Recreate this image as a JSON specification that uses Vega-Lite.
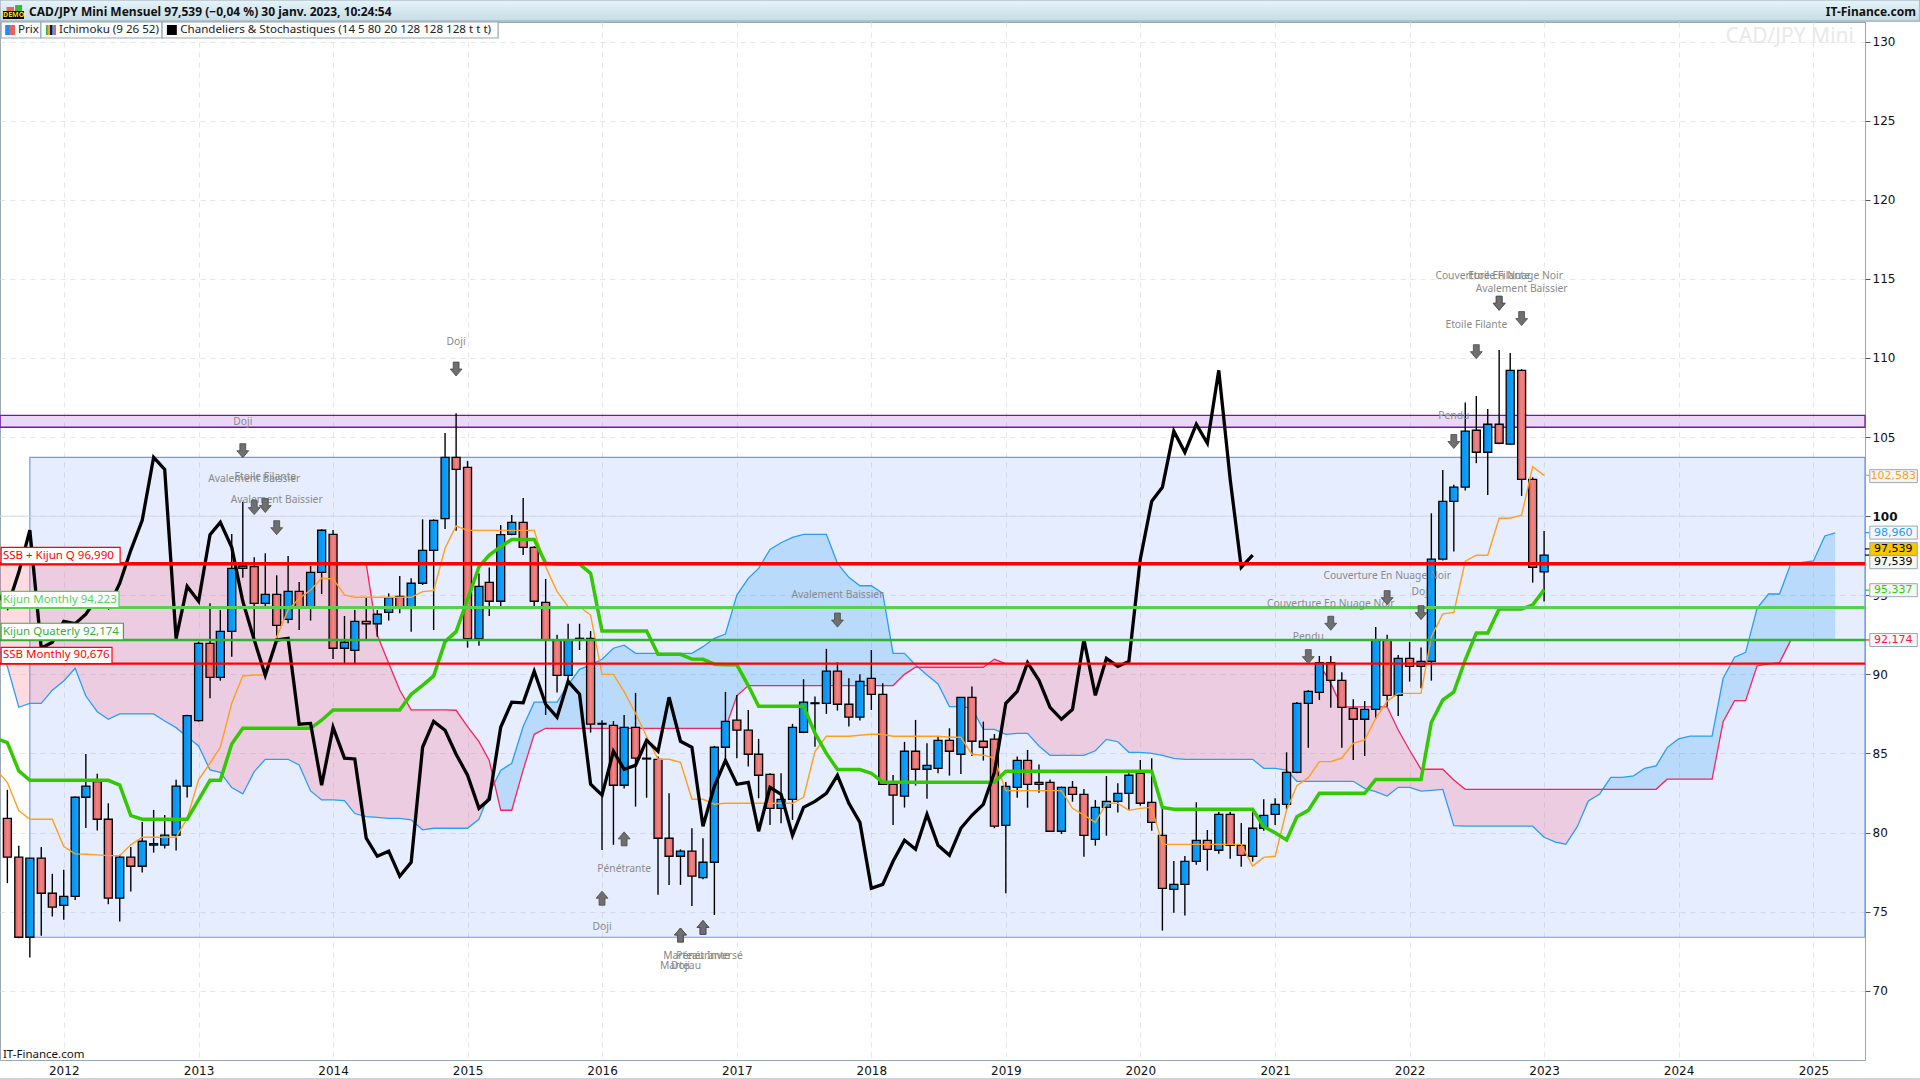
{
  "$schema": "https://vega.github.io/schema/vega-lite/v6.json",
  "width": 1865,
  "height": 1038,
  "autosize": {"type": "none"},
  "padding": {"left": 0, "right": 55, "top": 22, "bottom": 20},
  "background": "white",
  "config": {"view": {"stroke": "#9AA8B4"}, "font": "Noto Sans", "scale": {"continuousPadding": 0}},
  "resolve": {"scale": {"color": "independent", "fill": "independent", "stroke": "independent", "strokeWidth": "independent", "shape": "independent"}},
  "datasets": {
    "prices": [
      {"date":"2011-07-01","tenkan":84,"kijun":85.95,"chikou":95.25},
      {"date":"2011-08-01","open":80.9,"high":82.7,"low":76.8,"close":78.44,"tenkan":83.16,"kijun":85.69,"chikou":94.24},
      {"date":"2011-09-01","open":78.44,"high":79.16,"low":73.32,"close":73.38,"tenkan":81.39,"kijun":83.9,"chikou":96.45},
      {"date":"2011-10-01","open":73.38,"high":78.38,"low":72.1,"close":78.38,"tenkan":80.84,"kijun":83.3,"chikou":99.11},
      {"date":"2011-11-01","open":78.38,"high":79.09,"low":73.47,"close":76.16,"tenkan":80.84,"kijun":83.3,"chikou":91.65},
      {"date":"2011-12-01","open":76.16,"high":77.39,"low":74.69,"close":75.28,"tenkan":80.84,"kijun":83.3,"chikou":92.03},
      {"date":"2012-01-01","open":75.4,"high":77.64,"low":74.48,"close":75.97,"tenkan":79.11,"kijun":83.3,"chikou":93.35},
      {"date":"2012-02-01","open":75.97,"high":82.27,"low":75.74,"close":82.23,"tenkan":78.65,"kijun":83.3,"chikou":93.2},
      {"date":"2012-03-01","open":82.23,"high":84.97,"low":80.29,"close":82.93,"tenkan":78.63,"kijun":83.3,"chikou":93.8},
      {"date":"2012-04-01","open":83.22,"high":83.71,"low":80.13,"close":80.84,"tenkan":78.59,"kijun":83.3,"chikou":94.85},
      {"date":"2012-05-01","open":80.84,"high":81.85,"low":75.47,"close":75.85,"tenkan":78.54,"kijun":83.3,"chikou":94.24},
      {"date":"2012-06-01","open":75.85,"high":78.59,"low":74.37,"close":78.44,"tenkan":78.54,"kijun":83,"chikou":95.76},
      {"date":"2012-07-01","open":78.44,"high":79.09,"low":76.27,"close":77.87,"tenkan":79.22,"kijun":81.07,"chikou":97.84},
      {"date":"2012-08-01","open":77.87,"high":80.67,"low":77.47,"close":79.45,"tenkan":79.7,"kijun":80.84,"chikou":99.74},
      {"date":"2012-09-01","open":79.2,"high":81.43,"low":78.73,"close":79.3,"tenkan":79.7,"kijun":80.84,"chikou":103.72},
      {"date":"2012-10-01","open":79.2,"high":81.11,"low":78.99,"close":79.83,"tenkan":79.7,"kijun":80.84,"chikou":102.96},
      {"date":"2012-11-01","open":79.83,"high":83.33,"low":78.86,"close":82.93,"tenkan":79.7,"kijun":80.84,"chikou":92.26},
      {"date":"2012-12-01","open":82.93,"high":87.45,"low":82.21,"close":87.39,"tenkan":80.9,"kijun":80.84,"chikou":95.56},
      {"date":"2013-01-01","open":87.08,"high":92.07,"low":87.01,"close":91.96,"tenkan":83.33,"kijun":82.06,"chikou":94.62},
      {"date":"2013-02-01","open":91.96,"high":94.49,"low":88.49,"close":89.81,"tenkan":84.38,"kijun":83.3,"chikou":98.83},
      {"date":"2013-03-01","open":89.81,"high":94.07,"low":89.6,"close":92.72,"tenkan":85.39,"kijun":83.3,"chikou":99.61},
      {"date":"2013-04-01","open":92.72,"high":98.87,"low":91.12,"close":96.7,"tenkan":88.17,"kijun":85.6,"chikou":98.03},
      {"date":"2013-05-01","open":96.7,"high":100.91,"low":96.11,"close":96.85,"tenkan":89.9,"kijun":86.59,"chikou":94.62},
      {"date":"2013-06-01","open":96.81,"high":97.4,"low":92.28,"close":94.49,"tenkan":89.96,"kijun":86.59,"chikou":92.18},
      {"date":"2013-07-01","open":94.49,"high":97.65,"low":94.24,"close":95.06,"tenkan":89.96,"kijun":86.59,"chikou":89.94},
      {"date":"2013-08-01","open":95.06,"high":96.26,"low":92.28,"close":93.1,"tenkan":92.38,"kijun":86.59,"chikou":92.17},
      {"date":"2013-09-01","open":93.48,"high":97.48,"low":93.23,"close":95.25,"tenkan":94.07,"kijun":86.59,"chikou":92.28},
      {"date":"2013-10-01","open":95.25,"high":95.84,"low":92.81,"close":94.24,"tenkan":94.8,"kijun":86.59,"chikou":86.85},
      {"date":"2013-11-01","open":94.24,"high":96.85,"low":93.4,"close":96.45,"tenkan":95.33,"kijun":86.59,"chikou":86.9},
      {"date":"2013-12-01","open":96.45,"high":99.17,"low":95.08,"close":99.11,"tenkan":96.07,"kijun":87.1,"chikou":82.99},
      {"date":"2014-01-01","open":98.85,"high":99.13,"low":90.97,"close":91.65,"tenkan":96.03,"kijun":87.75,"chikou":86.65},
      {"date":"2014-02-01","open":91.65,"high":93.69,"low":90.7,"close":92.03,"tenkan":95.02,"kijun":87.75,"chikou":84.7},
      {"date":"2014-03-01","open":91.52,"high":94.07,"low":90.7,"close":93.35,"tenkan":94.87,"kijun":87.75,"chikou":84.65},
      {"date":"2014-04-01","open":93.35,"high":94.87,"low":92.2,"close":93.2,"tenkan":94.87,"kijun":87.75,"chikou":79.64},
      {"date":"2014-05-01","open":93.2,"high":94.07,"low":92.38,"close":93.8,"tenkan":94.87,"kijun":87.75,"chikou":78.5},
      {"date":"2014-06-01","open":93.92,"high":95.12,"low":93.4,"close":94.85,"tenkan":94.87,"kijun":87.75,"chikou":78.82},
      {"date":"2014-07-01","open":94.93,"high":96.22,"low":93.86,"close":94.24,"tenkan":94.87,"kijun":87.75,"chikou":77.24},
      {"date":"2014-08-01","open":94.24,"high":96.07,"low":92.7,"close":95.76,"tenkan":94.87,"kijun":88.74,"chikou":78.12},
      {"date":"2014-09-01","open":95.76,"high":99.8,"low":95.65,"close":97.84,"tenkan":95.23,"kijun":89.3,"chikou":85.39},
      {"date":"2014-10-01","open":97.84,"high":99.8,"low":92.8,"close":99.74,"tenkan":95.29,"kijun":89.9,"chikou":87.03},
      {"date":"2014-11-01","open":99.84,"high":105.26,"low":99.19,"close":103.72,"tenkan":97.97,"kijun":92.07,"chikou":86.47},
      {"date":"2014-12-01","open":103.72,"high":106.5,"low":99.08,"close":102.96,"tenkan":99.38,"kijun":92.7,"chikou":84.95},
      {"date":"2015-01-01","open":103.09,"high":103.49,"low":91.69,"close":92.26,"tenkan":99.1,"kijun":94.74,"chikou":83.62},
      {"date":"2015-02-01","open":92.26,"high":96.38,"low":91.81,"close":95.56,"tenkan":99.1,"kijun":96.8,"chikou":81.53},
      {"date":"2015-03-01","open":95.82,"high":96.76,"low":93.69,"close":94.62,"tenkan":99.1,"kijun":97.54,"chikou":82.1},
      {"date":"2015-04-01","open":94.62,"high":99.44,"low":94.24,"close":98.83,"tenkan":99.1,"kijun":98.07,"chikou":86.65},
      {"date":"2015-05-01","open":98.85,"high":100.07,"low":98.8,"close":99.61,"tenkan":99.1,"kijun":98.53,"chikou":88.24},
      {"date":"2015-06-01","open":99.61,"high":101.15,"low":97.54,"close":98.03,"tenkan":99.1,"kijun":98.53,"chikou":88.2},
      {"date":"2015-07-01","open":98.03,"high":98.1,"low":94.32,"close":94.62,"tenkan":99.1,"kijun":98.53,"chikou":90.2},
      {"date":"2015-08-01","open":94.55,"high":96.03,"low":87.43,"close":92.18,"tenkan":96.81,"kijun":97.02,"chikou":88.11},
      {"date":"2015-09-01","open":92.17,"high":92.5,"low":88.85,"close":89.94,"tenkan":95.23,"kijun":96.96,"chikou":87.29},
      {"date":"2015-10-01","open":89.94,"high":93.2,"low":89.5,"close":92.17,"tenkan":94.28,"kijun":96.96,"chikou":89.56},
      {"date":"2015-11-01","open":92.2,"high":93.2,"low":91.54,"close":92.28,"tenkan":94.28,"kijun":96.96,"chikou":88.74},
      {"date":"2015-12-01","open":92.28,"high":92.74,"low":86.32,"close":86.85,"tenkan":93.75,"kijun":96.39,"chikou":83.05},
      {"date":"2016-01-01","open":86.85,"high":87.1,"low":78.9,"close":86.9,"tenkan":90,"kijun":92.74,"chikou":82.36},
      {"date":"2016-02-01","open":86.78,"high":87.05,"low":79.22,"close":82.99,"tenkan":90,"kijun":92.74,"chikou":85.14},
      {"date":"2016-03-01","open":82.99,"high":87.43,"low":82.78,"close":86.65,"tenkan":88.91,"kijun":92.74,"chikou":84},
      {"date":"2016-04-01","open":86.65,"high":88.83,"low":81.64,"close":84.7,"tenkan":87.54,"kijun":92.74,"chikou":84.25},
      {"date":"2016-05-01","open":84.7,"high":85.85,"low":82.2,"close":84.65,"tenkan":86.07,"kijun":92.74,"chikou":85.83},
      {"date":"2016-06-01","open":84.63,"high":84.8,"low":76.06,"close":79.64,"tenkan":84.63,"kijun":91.27,"chikou":85.14},
      {"date":"2016-07-01","open":79.64,"high":82.48,"low":76.69,"close":78.5,"tenkan":84.63,"kijun":91.27,"chikou":88.55},
      {"date":"2016-08-01","open":78.5,"high":78.94,"low":76.69,"close":78.82,"tenkan":84.44,"kijun":91.27,"chikou":85.77},
      {"date":"2016-09-01","open":78.82,"high":80.27,"low":75.36,"close":77.24,"tenkan":82.1,"kijun":90.97,"chikou":85.39},
      {"date":"2016-10-01","open":77.15,"high":79.64,"low":77.05,"close":78.12,"tenkan":82.1,"kijun":90.95,"chikou":80.4},
      {"date":"2016-11-01","open":78.12,"high":85.48,"low":74.79,"close":85.39,"tenkan":81.79,"kijun":90.64,"chikou":82.92},
      {"date":"2016-12-01","open":85.39,"high":88.89,"low":84.59,"close":87.03,"tenkan":81.85,"kijun":90.6,"chikou":84.56},
      {"date":"2017-01-01","open":87.1,"high":88.7,"low":84.7,"close":86.47,"tenkan":81.85,"kijun":90.6,"chikou":83.05},
      {"date":"2017-02-01","open":86.47,"high":87.75,"low":84.17,"close":84.95,"tenkan":81.85,"kijun":89.29,"chikou":83.17},
      {"date":"2017-03-01","open":84.95,"high":85.92,"low":82.17,"close":83.62,"tenkan":81.85,"kijun":87.98,"chikou":80.08},
      {"date":"2017-04-01","open":83.68,"high":83.75,"low":80.48,"close":81.53,"tenkan":81.85,"kijun":87.98,"chikou":82.86},
      {"date":"2017-05-01","open":81.53,"high":83.75,"low":80.59,"close":82.1,"tenkan":81.85,"kijun":87.98,"chikou":82.41},
      {"date":"2017-06-01","open":82.1,"high":86.87,"low":80.8,"close":86.65,"tenkan":81.85,"kijun":87.98,"chikou":79.82},
      {"date":"2017-07-01","open":86.34,"high":89.69,"low":86.28,"close":88.24,"tenkan":82.23,"kijun":87.98,"chikou":81.59},
      {"date":"2017-08-01","open":88.15,"high":88.6,"low":85.43,"close":88.2,"tenkan":85.12,"kijun":86.28,"chikou":81.97},
      {"date":"2017-09-01","open":88.17,"high":91.61,"low":87.5,"close":90.2,"tenkan":86.09,"kijun":85,"chikou":82.48},
      {"date":"2017-10-01","open":90.2,"high":90.76,"low":87.71,"close":88.11,"tenkan":86.09,"kijun":83.98,"chikou":83.62},
      {"date":"2017-11-01","open":88.11,"high":89.75,"low":86.7,"close":87.29,"tenkan":86.09,"kijun":83.98,"chikou":81.85},
      {"date":"2017-12-01","open":87.29,"high":90,"low":87.08,"close":89.56,"tenkan":86.15,"kijun":83.98,"chikou":80.64},
      {"date":"2018-01-01","open":89.75,"high":91.54,"low":87.75,"close":88.74,"tenkan":86.21,"kijun":83.75,"chikou":76.47},
      {"date":"2018-02-01","open":88.74,"high":89.44,"low":83,"close":83.05,"tenkan":86.21,"kijun":83.18,"chikou":76.72},
      {"date":"2018-03-01","open":83.05,"high":83.64,"low":80.48,"close":82.36,"tenkan":86.09,"kijun":83.18,"chikou":78.18},
      {"date":"2018-04-01","open":82.3,"high":85.73,"low":81.58,"close":85.14,"tenkan":86.09,"kijun":83.18,"chikou":79.51},
      {"date":"2018-05-01","open":85.14,"high":87.12,"low":82.97,"close":84,"tenkan":86.09,"kijun":83.18,"chikou":78.94},
      {"date":"2018-06-01","open":84,"high":85.64,"low":82.13,"close":84.25,"tenkan":86.09,"kijun":83.18,"chikou":81.15},
      {"date":"2018-07-01","open":84.06,"high":86.06,"low":83.75,"close":85.83,"tenkan":86.09,"kijun":83.18,"chikou":79.19},
      {"date":"2018-08-01","open":85.83,"high":86.59,"low":83.6,"close":85.14,"tenkan":86.02,"kijun":83.18,"chikou":78.56},
      {"date":"2018-09-01","open":84.95,"high":88.55,"low":83.7,"close":88.55,"tenkan":86.02,"kijun":83.18,"chikou":80.27},
      {"date":"2018-10-01","open":88.55,"high":89.23,"low":84.84,"close":85.77,"tenkan":84.95,"kijun":83.18,"chikou":81.09},
      {"date":"2018-11-01","open":85.77,"high":87.01,"low":84.55,"close":85.39,"tenkan":84.89,"kijun":83.18,"chikou":81.78},
      {"date":"2018-12-01","open":85.9,"high":86.23,"low":80.27,"close":80.4,"tenkan":84.7,"kijun":83.18,"chikou":83.8},
      {"date":"2019-01-01","open":80.45,"high":83.2,"low":76.16,"close":82.92,"tenkan":82.65,"kijun":83.87,"chikou":88.17},
      {"date":"2019-02-01","open":82.86,"high":84.8,"low":82.2,"close":84.56,"tenkan":82.65,"kijun":83.87,"chikou":88.92},
      {"date":"2019-03-01","open":84.56,"high":85.22,"low":81.57,"close":83.05,"tenkan":82.65,"kijun":83.87,"chikou":90.74},
      {"date":"2019-04-01","open":83.05,"high":84.3,"low":82.52,"close":83.17,"tenkan":82.65,"kijun":83.87,"chikou":89.62},
      {"date":"2019-05-01","open":83.17,"high":83.36,"low":80.05,"close":80.08,"tenkan":82.65,"kijun":83.87,"chikou":87.91},
      {"date":"2019-06-01","open":80.08,"high":82.9,"low":79.91,"close":82.86,"tenkan":82.65,"kijun":83.87,"chikou":87.16},
      {"date":"2019-07-01","open":82.86,"high":83.26,"low":81.95,"close":82.41,"tenkan":81.53,"kijun":83.87,"chikou":87.79},
      {"date":"2019-08-01","open":82.41,"high":82.75,"low":78.47,"close":79.82,"tenkan":81.1,"kijun":83.87,"chikou":92.2},
      {"date":"2019-09-01","open":79.57,"high":82.06,"low":79.17,"close":81.59,"tenkan":80.64,"kijun":83.87,"chikou":88.67},
      {"date":"2019-10-01","open":81.59,"high":83.57,"low":79.8,"close":81.97,"tenkan":81.85,"kijun":83.87,"chikou":91.01},
      {"date":"2019-11-01","open":81.97,"high":83.11,"low":81.26,"close":82.48,"tenkan":81.85,"kijun":83.87,"chikou":90.5},
      {"date":"2019-12-01","open":82.48,"high":83.74,"low":81.42,"close":83.62,"tenkan":81.4,"kijun":83.87,"chikou":90.82},
      {"date":"2020-01-01","open":83.74,"high":84.58,"low":81.7,"close":81.85,"tenkan":81.53,"kijun":83.87,"chikou":97.28},
      {"date":"2020-02-01","open":81.91,"high":84.69,"low":80.12,"close":80.64,"tenkan":81.59,"kijun":83.87,"chikou":100.94},
      {"date":"2020-03-01","open":79.82,"high":81.53,"low":73.8,"close":76.47,"tenkan":79.25,"kijun":81.59,"chikou":101.83},
      {"date":"2020-04-01","open":76.41,"high":78.2,"low":74.93,"close":76.72,"tenkan":79.25,"kijun":81.47,"chikou":105.37},
      {"date":"2020-05-01","open":76.72,"high":78.52,"low":74.75,"close":78.18,"tenkan":79.25,"kijun":81.47,"chikou":104.04},
      {"date":"2020-06-01","open":78.18,"high":81.91,"low":77.97,"close":79.51,"tenkan":79.25,"kijun":81.47,"chikou":105.81},
      {"date":"2020-07-01","open":79.51,"high":80.16,"low":77.59,"close":78.94,"tenkan":79.25,"kijun":81.47,"chikou":104.61},
      {"date":"2020-08-01","open":78.88,"high":81.32,"low":78.66,"close":81.15,"tenkan":79.25,"kijun":81.47,"chikou":109.22},
      {"date":"2020-09-01","open":81.15,"high":81.32,"low":78.35,"close":79.19,"tenkan":79.25,"kijun":81.47,"chikou":102.33},
      {"date":"2020-10-01","open":79.19,"high":80.6,"low":77.84,"close":78.56,"tenkan":79.25,"kijun":81.47,"chikou":96.77},
      {"date":"2020-11-01","open":78.5,"high":81.32,"low":78.16,"close":80.27,"tenkan":77.88,"kijun":81.47,"chikou":97.54},
      {"date":"2020-12-01","open":80.27,"high":82.1,"low":80.12,"close":81.09,"tenkan":78.43,"kijun":80.37},
      {"date":"2021-01-01","open":81.15,"high":82.16,"low":80.48,"close":81.78,"tenkan":78.5,"kijun":79.99},
      {"date":"2021-02-01","open":81.78,"high":85.07,"low":81.47,"close":83.8,"tenkan":81.42,"kijun":79.53},
      {"date":"2021-03-01","open":83.8,"high":88.25,"low":83.74,"close":88.17,"tenkan":82.96,"kijun":81},
      {"date":"2021-04-01","open":88.17,"high":89,"low":85.36,"close":88.92,"tenkan":83.47,"kijun":81.4},
      {"date":"2021-05-01","open":88.86,"high":91.16,"low":88.38,"close":90.74,"tenkan":84.48,"kijun":82.48},
      {"date":"2021-06-01","open":90.74,"high":91.16,"low":87.89,"close":89.62,"tenkan":84.48,"kijun":82.48},
      {"date":"2021-07-01","open":89.62,"high":90.13,"low":85.36,"close":87.91,"tenkan":84.71,"kijun":82.48},
      {"date":"2021-08-01","open":87.85,"high":88.42,"low":84.58,"close":87.16,"tenkan":85.64,"kijun":82.48},
      {"date":"2021-09-01","open":87.16,"high":88.31,"low":84.84,"close":87.79,"tenkan":85.85,"kijun":82.48},
      {"date":"2021-10-01","open":87.79,"high":93,"low":87.18,"close":92.2,"tenkan":87.22,"kijun":83.36},
      {"date":"2021-11-01","open":92.2,"high":92.5,"low":87.96,"close":88.67,"tenkan":88.31,"kijun":83.36},
      {"date":"2021-12-01","open":88.67,"high":91.22,"low":87.37,"close":91.01,"tenkan":88.8,"kijun":83.36},
      {"date":"2022-01-01","open":91.01,"high":92.06,"low":89.54,"close":90.5,"tenkan":88.8,"kijun":83.36},
      {"date":"2022-02-01","open":90.5,"high":91.7,"low":89.12,"close":90.82,"tenkan":88.8,"kijun":83.36},
      {"date":"2022-03-01","open":90.82,"high":100.18,"low":89.6,"close":97.28,"tenkan":92.38,"kijun":86.97},
      {"date":"2022-04-01","open":97.28,"high":102.92,"low":97.2,"close":100.94,"tenkan":93.82,"kijun":88.38},
      {"date":"2022-05-01","open":100.94,"high":101.98,"low":97.76,"close":101.83,"tenkan":93.92,"kijun":88.89},
      {"date":"2022-06-01","open":101.83,"high":107.18,"low":101.62,"close":105.37,"tenkan":97.15,"kijun":90.91},
      {"date":"2022-07-01","open":105.43,"high":107.6,"low":103.35,"close":104.04,"tenkan":97.53,"kijun":92.62},
      {"date":"2022-08-01","open":104.04,"high":106.78,"low":101.34,"close":105.81,"tenkan":97.53,"kijun":92.62},
      {"date":"2022-09-01","open":105.81,"high":110.51,"low":104.55,"close":104.61,"tenkan":99.87,"kijun":94.13},
      {"date":"2022-10-01","open":104.55,"high":110.32,"low":104.5,"close":109.22,"tenkan":99.87,"kijun":94.13},
      {"date":"2022-11-01","open":109.22,"high":109.29,"low":101.28,"close":102.33,"tenkan":100.06,"kijun":94.13},
      {"date":"2022-12-01","open":102.33,"high":102.46,"low":95.8,"close":96.77,"tenkan":103.13,"kijun":94.39},
      {"date":"2023-01-01","open":96.48,"high":99.07,"low":94.6,"close":97.54,"tenkan":102.58,"kijun":95.34}
    ],
    "kumo": [
      {"date":"2011-07-01","ssa":91.9,"ssb":96.99,"kind":"rouge"},
      {"date":"2011-08-01","ssa":90.49,"ssb":96.99,"kind":"rouge"},
      {"date":"2011-09-01","ssa":87.92,"ssb":96.99,"kind":"rouge"},
      {"date":"2011-10-01","ssa":88.17,"ssb":96.99,"kind":"rouge"},
      {"date":"2011-11-01","ssa":88.17,"ssb":96.99,"kind":"rouge"},
      {"date":"2011-12-01","ssa":89,"ssb":96.99,"kind":"rouge"},
      {"date":"2012-01-01","ssa":89.58,"ssb":96.99,"kind":"rouge"},
      {"date":"2012-02-01","ssa":90.38,"ssb":96.99,"kind":"rouge"},
      {"date":"2012-03-01","ssa":88.63,"ssb":96.99,"kind":"rouge"},
      {"date":"2012-04-01","ssa":87.64,"ssb":96.99,"kind":"rouge"},
      {"date":"2012-05-01","ssa":87.16,"ssb":96.99,"kind":"rouge"},
      {"date":"2012-06-01","ssa":87.5,"ssb":96.99,"kind":"rouge"},
      {"date":"2012-07-01","ssa":87.5,"ssb":96.99,"kind":"rouge"},
      {"date":"2012-08-01","ssa":87.5,"ssb":96.99,"kind":"rouge"},
      {"date":"2012-09-01","ssa":87.5,"ssb":96.99,"kind":"rouge"},
      {"date":"2012-10-01","ssa":87.05,"ssb":96.99,"kind":"rouge"},
      {"date":"2012-11-01","ssa":86.63,"ssb":96.99,"kind":"rouge"},
      {"date":"2012-12-01","ssa":86.06,"ssb":96.99,"kind":"rouge"},
      {"date":"2013-01-01","ssa":85.47,"ssb":96.99,"kind":"rouge"},
      {"date":"2013-02-01","ssa":83.96,"ssb":96.99,"kind":"rouge"},
      {"date":"2013-03-01","ssa":83.81,"ssb":96.99,"kind":"rouge"},
      {"date":"2013-04-01","ssa":82.84,"ssb":96.99,"kind":"rouge"},
      {"date":"2013-05-01","ssa":82.44,"ssb":96.99,"kind":"rouge"},
      {"date":"2013-06-01","ssa":83.85,"ssb":96.99,"kind":"rouge"},
      {"date":"2013-07-01","ssa":84.63,"ssb":96.99,"kind":"rouge"},
      {"date":"2013-08-01","ssa":84.63,"ssb":96.99,"kind":"rouge"},
      {"date":"2013-09-01","ssa":84.63,"ssb":96.99,"kind":"rouge"},
      {"date":"2013-10-01","ssa":84.27,"ssb":96.99,"kind":"rouge"},
      {"date":"2013-11-01","ssa":82.63,"ssb":96.99,"kind":"rouge"},
      {"date":"2013-12-01","ssa":82.06,"ssb":96.99,"kind":"rouge"},
      {"date":"2014-01-01","ssa":82.06,"ssb":96.99,"kind":"rouge"},
      {"date":"2014-02-01","ssa":82.02,"ssb":96.99,"kind":"rouge"},
      {"date":"2014-03-01","ssa":81.2,"ssb":96.99,"kind":"rouge"},
      {"date":"2014-04-01","ssa":81,"ssb":96.99,"kind":"rouge"},
      {"date":"2014-05-01","ssa":80.96,"ssb":92.49,"kind":"rouge"},
      {"date":"2014-06-01","ssa":80.9,"ssb":90.7,"kind":"rouge"},
      {"date":"2014-07-01","ssa":80.9,"ssb":89.01,"kind":"rouge"},
      {"date":"2014-08-01","ssa":80.8,"ssb":87.75,"kind":"rouge"},
      {"date":"2014-09-01","ssa":80.17,"ssb":87.75,"kind":"rouge"},
      {"date":"2014-10-01","ssa":80.27,"ssb":87.75,"kind":"rouge"},
      {"date":"2014-11-01","ssa":80.27,"ssb":87.75,"kind":"rouge"},
      {"date":"2014-12-01","ssa":80.27,"ssb":87.73,"kind":"rouge"},
      {"date":"2015-01-01","ssa":80.27,"ssb":86.7,"kind":"rouge"},
      {"date":"2015-02-01","ssa":80.84,"ssb":85.75,"kind":"rouge"},
      {"date":"2015-03-01","ssa":82.48,"ssb":84.55,"kind":"rouge"},
      {"date":"2015-03-15","ssa":83.13,"ssb":83.13,"kind":"rouge"},
      {"date":"2015-03-15","ssa":83.13,"ssb":83.13,"kind":"bleu"},
      {"date":"2015-04-01","ssa":83.92,"ssb":81.41,"kind":"bleu"},
      {"date":"2015-05-01","ssa":84.38,"ssb":81.41,"kind":"bleu"},
      {"date":"2015-06-01","ssa":86.7,"ssb":83.96,"kind":"bleu"},
      {"date":"2015-07-01","ssa":88.24,"ssb":86.21,"kind":"bleu"},
      {"date":"2015-08-01","ssa":88.24,"ssb":86.59,"kind":"bleu"},
      {"date":"2015-09-01","ssa":88.24,"ssb":86.59,"kind":"bleu"},
      {"date":"2015-10-01","ssa":89.33,"ssb":86.59,"kind":"bleu"},
      {"date":"2015-11-01","ssa":90.32,"ssb":86.59,"kind":"bleu"},
      {"date":"2015-12-01","ssa":90.6,"ssb":86.59,"kind":"bleu"},
      {"date":"2016-01-01","ssa":90.95,"ssb":86.59,"kind":"bleu"},
      {"date":"2016-02-01","ssa":91.65,"ssb":86.59,"kind":"bleu"},
      {"date":"2016-03-01","ssa":91.84,"ssb":86.59,"kind":"bleu"},
      {"date":"2016-04-01","ssa":91.33,"ssb":86.59,"kind":"bleu"},
      {"date":"2016-05-01","ssa":91.33,"ssb":86.59,"kind":"bleu"},
      {"date":"2016-06-01","ssa":91.33,"ssb":86.59,"kind":"bleu"},
      {"date":"2016-07-01","ssa":91.33,"ssb":86.59,"kind":"bleu"},
      {"date":"2016-08-01","ssa":91.33,"ssb":86.59,"kind":"bleu"},
      {"date":"2016-09-01","ssa":91.33,"ssb":86.59,"kind":"bleu"},
      {"date":"2016-10-01","ssa":91.75,"ssb":86.59,"kind":"bleu"},
      {"date":"2016-11-01","ssa":92.28,"ssb":86.59,"kind":"bleu"},
      {"date":"2016-12-01","ssa":92.55,"ssb":86.59,"kind":"bleu"},
      {"date":"2017-01-01","ssa":95.01,"ssb":88.64,"kind":"bleu"},
      {"date":"2017-02-01","ssa":96.07,"ssb":89.29,"kind":"bleu"},
      {"date":"2017-03-01","ssa":96.7,"ssb":89.29,"kind":"bleu"},
      {"date":"2017-04-01","ssa":97.9,"ssb":89.29,"kind":"bleu"},
      {"date":"2017-05-01","ssa":98.32,"ssb":89.29,"kind":"bleu"},
      {"date":"2017-06-01","ssa":98.66,"ssb":89.29,"kind":"bleu"},
      {"date":"2017-07-01","ssa":98.85,"ssb":89.29,"kind":"bleu"},
      {"date":"2017-08-01","ssa":98.85,"ssb":89.29,"kind":"bleu"},
      {"date":"2017-09-01","ssa":98.85,"ssb":89.29,"kind":"bleu"},
      {"date":"2017-10-01","ssa":97.02,"ssb":89.29,"kind":"bleu"},
      {"date":"2017-11-01","ssa":96.13,"ssb":89.29,"kind":"bleu"},
      {"date":"2017-12-01","ssa":95.6,"ssb":89.29,"kind":"bleu"},
      {"date":"2018-01-01","ssa":95.6,"ssb":89.29,"kind":"bleu"},
      {"date":"2018-02-01","ssa":95.12,"ssb":89.29,"kind":"bleu"},
      {"date":"2018-03-01","ssa":91.33,"ssb":89.29,"kind":"bleu"},
      {"date":"2018-04-01","ssa":91.33,"ssb":90,"kind":"bleu"},
      {"date":"2018-05-01","ssa":90.59,"ssb":90.45,"kind":"bleu"},
      {"date":"2018-05-08","ssa":90.45,"ssb":90.45,"kind":"bleu"},
      {"date":"2018-05-08","ssa":90.45,"ssb":90.45,"kind":"rouge"},
      {"date":"2018-06-01","ssa":89.96,"ssb":90.45,"kind":"rouge"},
      {"date":"2018-07-01","ssa":89.39,"ssb":90.45,"kind":"rouge"},
      {"date":"2018-08-01","ssa":87.96,"ssb":90.45,"kind":"rouge"},
      {"date":"2018-09-01","ssa":87.96,"ssb":90.45,"kind":"rouge"},
      {"date":"2018-10-01","ssa":87.85,"ssb":90.45,"kind":"rouge"},
      {"date":"2018-11-01","ssa":86.52,"ssb":90.45,"kind":"rouge"},
      {"date":"2018-12-01","ssa":86.52,"ssb":90.95,"kind":"rouge"},
      {"date":"2019-01-01","ssa":86.21,"ssb":90.68,"kind":"rouge"},
      {"date":"2019-02-01","ssa":86.27,"ssb":90.68,"kind":"rouge"},
      {"date":"2019-03-01","ssa":86.27,"ssb":90.68,"kind":"rouge"},
      {"date":"2019-04-01","ssa":85.47,"ssb":90.68,"kind":"rouge"},
      {"date":"2019-05-01","ssa":84.88,"ssb":90.68,"kind":"rouge"},
      {"date":"2019-06-01","ssa":84.88,"ssb":90.68,"kind":"rouge"},
      {"date":"2019-07-01","ssa":84.88,"ssb":90.68,"kind":"rouge"},
      {"date":"2019-08-01","ssa":84.88,"ssb":90.68,"kind":"rouge"},
      {"date":"2019-09-01","ssa":85.17,"ssb":90.68,"kind":"rouge"},
      {"date":"2019-10-01","ssa":85.89,"ssb":90.68,"kind":"rouge"},
      {"date":"2019-11-01","ssa":85.74,"ssb":90.68,"kind":"rouge"},
      {"date":"2019-12-01","ssa":85.07,"ssb":90.68,"kind":"rouge"},
      {"date":"2020-01-01","ssa":85.07,"ssb":90.68,"kind":"rouge"},
      {"date":"2020-02-01","ssa":85,"ssb":90.68,"kind":"rouge"},
      {"date":"2020-03-01","ssa":84.88,"ssb":90.68,"kind":"rouge"},
      {"date":"2020-04-01","ssa":84.69,"ssb":90.68,"kind":"rouge"},
      {"date":"2020-05-01","ssa":84.63,"ssb":90.68,"kind":"rouge"},
      {"date":"2020-06-01","ssa":84.63,"ssb":90.68,"kind":"rouge"},
      {"date":"2020-07-01","ssa":84.63,"ssb":90.68,"kind":"rouge"},
      {"date":"2020-08-01","ssa":84.63,"ssb":90.68,"kind":"rouge"},
      {"date":"2020-09-01","ssa":84.63,"ssb":90.68,"kind":"rouge"},
      {"date":"2020-10-01","ssa":84.63,"ssb":90.68,"kind":"rouge"},
      {"date":"2020-11-01","ssa":84.63,"ssb":90.68,"kind":"rouge"},
      {"date":"2020-12-01","ssa":84.06,"ssb":90.68,"kind":"rouge"},
      {"date":"2021-01-01","ssa":84.06,"ssb":90.68,"kind":"rouge"},
      {"date":"2021-02-01","ssa":83.95,"ssb":90.68,"kind":"rouge"},
      {"date":"2021-03-01","ssa":83.24,"ssb":90.68,"kind":"rouge"},
      {"date":"2021-04-01","ssa":83.24,"ssb":90.68,"kind":"rouge"},
      {"date":"2021-05-01","ssa":83.24,"ssb":90.68,"kind":"rouge"},
      {"date":"2021-06-01","ssa":83.24,"ssb":89.43,"kind":"rouge"},
      {"date":"2021-07-01","ssa":83.24,"ssb":87.95,"kind":"rouge"},
      {"date":"2021-08-01","ssa":83.24,"ssb":87.95,"kind":"rouge"},
      {"date":"2021-09-01","ssa":82.79,"ssb":87.95,"kind":"rouge"},
      {"date":"2021-10-01","ssa":82.58,"ssb":87.95,"kind":"rouge"},
      {"date":"2021-11-01","ssa":82.31,"ssb":87.95,"kind":"rouge"},
      {"date":"2021-12-01","ssa":82.86,"ssb":86.48,"kind":"rouge"},
      {"date":"2022-01-01","ssa":82.86,"ssb":85.2,"kind":"rouge"},
      {"date":"2022-02-01","ssa":82.62,"ssb":84,"kind":"rouge"},
      {"date":"2022-03-01","ssa":82.67,"ssb":84,"kind":"rouge"},
      {"date":"2022-04-01","ssa":82.73,"ssb":84,"kind":"rouge"},
      {"date":"2022-05-01","ssa":80.44,"ssb":83.32,"kind":"rouge"},
      {"date":"2022-06-01","ssa":80.4,"ssb":82.73,"kind":"rouge"},
      {"date":"2022-07-01","ssa":80.4,"ssb":82.73,"kind":"rouge"},
      {"date":"2022-08-01","ssa":80.4,"ssb":82.73,"kind":"rouge"},
      {"date":"2022-09-01","ssa":80.4,"ssb":82.73,"kind":"rouge"},
      {"date":"2022-10-01","ssa":80.4,"ssb":82.73,"kind":"rouge"},
      {"date":"2022-11-01","ssa":80.4,"ssb":82.73,"kind":"rouge"},
      {"date":"2022-12-01","ssa":80.4,"ssb":82.73,"kind":"rouge"},
      {"date":"2023-01-01","ssa":79.7,"ssb":82.73,"kind":"rouge"},
      {"date":"2023-02-01","ssa":79.4,"ssb":82.73,"kind":"rouge"},
      {"date":"2023-03-01","ssa":79.26,"ssb":82.73,"kind":"rouge"},
      {"date":"2023-04-01","ssa":80.37,"ssb":82.73,"kind":"rouge"},
      {"date":"2023-05-01","ssa":82,"ssb":82.73,"kind":"rouge"},
      {"date":"2023-06-01","ssa":82.44,"ssb":82.73,"kind":"rouge"},
      {"date":"2023-06-09","ssa":82.73,"ssb":82.73,"kind":"rouge"},
      {"date":"2023-06-09","ssa":82.73,"ssb":82.73,"kind":"bleu"},
      {"date":"2023-07-01","ssa":83.49,"ssb":82.73,"kind":"bleu"},
      {"date":"2023-08-01","ssa":83.49,"ssb":82.73,"kind":"bleu"},
      {"date":"2023-09-01","ssa":83.58,"ssb":82.73,"kind":"bleu"},
      {"date":"2023-10-01","ssa":84.06,"ssb":82.73,"kind":"bleu"},
      {"date":"2023-11-01","ssa":84.21,"ssb":82.73,"kind":"bleu"},
      {"date":"2023-12-01","ssa":85.37,"ssb":83.37,"kind":"bleu"},
      {"date":"2024-01-01","ssa":85.92,"ssb":83.37,"kind":"bleu"},
      {"date":"2024-02-01","ssa":86.1,"ssb":83.37,"kind":"bleu"},
      {"date":"2024-03-01","ssa":86.1,"ssb":83.37,"kind":"bleu"},
      {"date":"2024-04-01","ssa":86.1,"ssb":83.37,"kind":"bleu"},
      {"date":"2024-05-01","ssa":89.75,"ssb":87.01,"kind":"bleu"},
      {"date":"2024-06-01","ssa":91.08,"ssb":88.34,"kind":"bleu"},
      {"date":"2024-07-01","ssa":91.39,"ssb":88.34,"kind":"bleu"},
      {"date":"2024-08-01","ssa":94.17,"ssb":90.53,"kind":"bleu"},
      {"date":"2024-09-01","ssa":95.08,"ssb":90.66,"kind":"bleu"},
      {"date":"2024-10-01","ssa":95.08,"ssb":90.74,"kind":"bleu"},
      {"date":"2024-11-01","ssa":97.02,"ssb":92.17,"kind":"bleu"},
      {"date":"2024-12-01","ssa":97.07,"ssb":92.17,"kind":"bleu"},
      {"date":"2025-01-01","ssa":97.17,"ssb":92.17,"kind":"bleu"},
      {"date":"2025-02-01","ssa":98.75,"ssb":92.17,"kind":"bleu"},
      {"date":"2025-03-01","ssa":98.94,"ssb":92.17,"kind":"bleu"}
    ],
    "levels": [
      {"line":"SSB + Kijun Q 96,990","level":96.99,"top":98.03,"textAt":97.5,"start":"2011-07-15","end":"2012-06-02","textStart":"2011-07-20"},
      {"line":"Kijun Monthly 94,223","level":94.223,"top":95.25,"textAt":94.73,"start":"2011-07-15","end":"2012-05-30","textStart":"2011-07-20"},
      {"line":"Kijun Quaterly 92,174","level":92.174,"top":93.23,"textAt":92.7,"start":"2011-07-15","end":"2012-06-11","textStart":"2011-07-20"},
      {"line":"SSB Monthly 90,676","level":90.676,"top":91.71,"textAt":91.2,"start":"2011-07-15","end":"2012-05-11","textStart":"2011-07-20"}
    ],
    "patterns": [
      {"date":"2013-05-01","label":"Doji","labelAt":105.96,"arrowAt":104.14,"dir":"down"},
      {"date":"2013-06-01","label":"Avalement Baissier","labelAt":102.35,"arrowAt":100.54,"dir":"down"},
      {"date":"2013-07-01","label":"Etoile Filante","labelAt":102.48,"arrowAt":100.67,"dir":"down"},
      {"date":"2013-08-01","label":"Avalement Baissier","labelAt":101.02,"arrowAt":99.27,"dir":"down"},
      {"date":"2014-12-01","label":"Doji","labelAt":111,"arrowAt":109.3,"dir":"down"},
      {"date":"2017-10-01","label":"Avalement Baissier","labelAt":95,"arrowAt":93.43,"dir":"down"},
      {"date":"2021-04-01","label":"Pendu","labelAt":92.38,"arrowAt":91.12,"dir":"down"},
      {"date":"2021-06-01","label":"Couverture En Nuage Noir","labelAt":94.43,"arrowAt":93.23,"dir":"down"},
      {"date":"2021-11-01","label":"Couverture En Nuage Noir","labelAt":96.22,"arrowAt":94.85,"dir":"down"},
      {"date":"2022-02-01","label":"Doji","labelAt":95.21,"arrowAt":93.9,"dir":"down"},
      {"date":"2022-05-01","label":"Pendu","labelAt":106.34,"arrowAt":104.72,"dir":"down"},
      {"date":"2022-07-01","label":"Etoile Filante","labelAt":112.07,"arrowAt":110.4,"dir":"down"},
      {"date":"2022-09-01","label":"Couverture En Nuage Noir","labelAt":115.19,"arrowAt":113.46,"dir":"down"},
      {"date":"2022-09-01","label":"Etoile Filante","labelAt":115.19,"arrowAt":113.46,"dir":"down"},
      {"date":"2022-11-01","label":"Avalement Baissier","labelAt":114.34,"arrowAt":112.49,"dir":"down"},
      {"date":"2016-01-01","label":"Doji","labelAt":74,"arrowAt":75.85,"dir":"up"},
      {"date":"2016-03-01","label":"Pénétrante","labelAt":77.7,"arrowAt":79.6,"dir":"up"},
      {"date":"2016-08-01","label":"Marteau","labelAt":71.56,"arrowAt":73.52,"dir":"up"},
      {"date":"2016-08-01","label":"Doji","labelAt":71.56,"arrowAt":73.52,"dir":"up"},
      {"date":"2016-10-01","label":"Marteau Inversé","labelAt":72.2,"arrowAt":74,"dir":"up"},
      {"date":"2016-10-01","label":"Pénétrante","labelAt":72.2,"arrowAt":74,"dir":"up"}
    ],
    "tags": [
      {"series":"tenkan","label":"102,583","value":102.583,"center":102.53,"low":102.12,"high":102.94,"start":"2025-06-03","end":"2025-10-10","mid":"2025-08-06","tickStart":"2025-05-21"},
      {"series":"ssa","label":"98,960","value":98.96,"center":98.96,"low":98.55,"high":99.37,"start":"2025-06-03","end":"2025-10-10","mid":"2025-08-06","tickStart":"2025-05-21"},
      {"series":"last","label":"97,539","value":97.54,"center":97.09,"low":96.68,"high":97.5,"start":"2025-06-03","end":"2025-10-10","mid":"2025-08-06","tickStart":"2025-05-21"},
      {"series":"price","label":"97,539","value":97.93,"center":97.93,"low":97.52,"high":98.34,"start":"2025-06-03","end":"2025-10-10","mid":"2025-08-06","tickStart":"2025-05-21"},
      {"series":"kijun","label":"95,337","value":95.32,"center":95.32,"low":94.91,"high":95.73,"start":"2025-06-03","end":"2025-10-10","mid":"2025-08-06","tickStart":"2025-05-21"},
      {"series":"ssb","label":"92,174","value":92.174,"center":92.17,"low":91.76,"high":92.58,"start":"2025-06-03","end":"2025-10-10","mid":"2025-08-06","tickStart":"2025-05-21"}
    ],
    "buttons": [
      {"start":"2011-07-15","end":"2011-10-31"},
      {"start":"2011-10-31","end":"2012-09-24"},
      {"start":"2012-09-24","end":"2015-03-25"}
    ],
    "swatches": [
      {"start":"2011-07-26","end":"2011-08-08","low":130.42,"high":131.05,"tone":"bleu"},
      {"start":"2011-08-08","end":"2011-08-22","low":130.42,"high":131.05,"tone":"rouge"},
      {"start":"2011-11-14","end":"2011-11-19","low":130.42,"high":131.05,"tone":"vert"},
      {"start":"2011-11-19","end":"2011-11-25","low":130.42,"high":131.05,"tone":"orange"},
      {"start":"2011-11-25","end":"2011-11-30","low":130.42,"high":131.05,"tone":"noir"},
      {"start":"2011-11-30","end":"2011-12-05","low":130.42,"high":131.05,"tone":"bleu"},
      {"start":"2011-12-05","end":"2011-12-11","low":130.42,"high":131.05,"tone":"rouge"},
      {"start":"2012-10-07","end":"2012-11-03","low":130.42,"high":131.05,"tone":"noir"},
      {"start":"2011-07-20","end":"2011-09-15","low":131.43,"high":131.93,"tone":"noir"},
      {"start":"2011-07-30","end":"2011-08-19","low":131.93,"high":132.19,"tone":"rouge"},
      {"start":"2011-08-22","end":"2011-09-10","low":131.93,"high":132.31,"tone":"vert"}
    ]
  },
  "layer": [
    {
      "data": {"values": [{"start":"2011-10-01","end":"2025-05-21","low":73.38,"high":103.72}], "format": {"parse": {"start":"date","end":"date"}}},
      "mark": {"type":"rect","fill":"#3F75F7","fillOpacity":0.13,"stroke":"#6E9BEA","strokeWidth":1.2},
      "encoding": {
        "x": {
          "field":"start","type":"temporal","title":null,
          "scale":{"domain":["2011-07-12","2025-05-21"],"nice":false,"padding":0},
          "axis":{"format":"%Y","tickCount":{"interval":"year","step":1},"grid":true,"gridColor":"#E6E6E6","gridDash":[5,5],"ticks":false,"domain":false,"labelColor":"#111","labelFontSize":12,"labelFont":"DejaVu Sans","labelPadding":5,"labelOverlap":false,"title":null}
        },
        "x2": {"field":"end"},
        "y": {
          "field":"low","type":"quantitative","title":null,
          "scale":{"domain":[65.62,131.24],"zero":false,"nice":false},
          "axis":{"orient":"right","values":[70,75,80,85,90,95,100,105,110,115,120,125,130],"grid":true,"gridColor":"#E6E6E6","gridDash":[5,5],"tickSize":5,"tickColor":"#555","domain":false,"labelColor":"#111","labelFontSize":12,"labelFont":"DejaVu Sans","labelPadding":2,"labelFontWeight":{"expr":"datum.value==100?'bold':'normal'"},"title":null}
        },
        "y2": {"field":"high"}
      }
    },
    {
      "data": {"values": [{"value":100}]},
      "mark": {"type":"rule","color":"#D3DAEA","strokeWidth":1},
      "encoding": {"y": {"field":"value","type":"quantitative","title":null}}
    },
    {
      "data": {"values": [{"start":"2011-07-12","end":"2025-05-21","low":105.62,"high":106.37}], "format": {"parse": {"start":"date","end":"date"}}},
      "mark": {"type":"rect","fill":"#A64FDC","fillOpacity":0.22,"stroke":"#7A12B0","strokeWidth":1.3},
      "encoding": {
        "x": {"field":"start","type":"temporal","title":null},
        "x2": {"field":"end"},
        "y": {"field":"low","type":"quantitative","title":null},
        "y2": {"field":"high"}
      }
    },
    {
      "data": {"name":"kumo"},
      "mark": {"type":"area","opacity":0.24},
      "encoding": {
        "x": {"field":"date","type":"temporal","title":null},
        "y": {"field":"ssa","type":"quantitative","title":null,"stack":null},
        "y2": {"field":"ssb"},
        "color": {"field":"kind","type":"nominal","legend":null,"scale":{"domain":["rouge","bleu"],"range":["#FF6480","#2A9DF4"]}}
      }
    },
    {
      "data": {"name":"kumo"},
      "mark": {"type":"line","color":"#2A9DF4","strokeWidth":1.3},
      "encoding": {
        "x": {"field":"date","type":"temporal","title":null},
        "y": {"field":"ssa","type":"quantitative","title":null}
      }
    },
    {
      "data": {"name":"kumo"},
      "mark": {"type":"line","color":"#F5245C","strokeWidth":1.3},
      "encoding": {
        "x": {"field":"date","type":"temporal","title":null},
        "y": {"field":"ssb","type":"quantitative","title":null}
      }
    },
    {
      "data": {"name":"prices"},
      "transform": [{"filter":"isValid(datum.close)"}],
      "mark": {"type":"rule","color":"#000","strokeWidth":1.4},
      "encoding": {
        "x": {"field":"date","type":"temporal","title":null},
        "y": {"field":"low","type":"quantitative","title":null},
        "y2": {"field":"high"}
      }
    },
    {
      "data": {"name":"prices"},
      "transform": [{"filter":"isValid(datum.close) && datum.close >= datum.open"}],
      "mark": {"type":"bar","width":8,"stroke":"#000","strokeWidth":1.3,"color":{"gradient":"linear","x1":0,"x2":1,"y1":0,"y2":0,"stops":[{"offset":0,"color":"#078EF3"},{"offset":1,"color":"#10A8FB"}]}},
      "encoding": {
        "x": {"field":"date","type":"temporal","title":null},
        "y": {"field":"open","type":"quantitative","title":null},
        "y2": {"field":"close"}
      }
    },
    {
      "data": {"name":"prices"},
      "transform": [{"filter":"isValid(datum.close) && datum.close < datum.open"}],
      "mark": {"type":"bar","width":8,"stroke":"#000","strokeWidth":1.3,"color":{"gradient":"linear","x1":0,"x2":1,"y1":0,"y2":0,"stops":[{"offset":0,"color":"#DB5C5C"},{"offset":0.5,"color":"#F08888"},{"offset":1,"color":"#E26868"}]}},
      "encoding": {
        "x": {"field":"date","type":"temporal","title":null},
        "y": {"field":"open","type":"quantitative","title":null},
        "y2": {"field":"close"}
      }
    },
    {
      "data": {"name":"prices"},
      "mark": {"type":"line","color":"#FF9F1C","strokeWidth":1.4},
      "encoding": {
        "x": {"field":"date","type":"temporal","title":null},
        "y": {"field":"tenkan","type":"quantitative","title":null}
      }
    },
    {
      "data": {"name":"prices"},
      "mark": {"type":"line","color":"#33C900","strokeWidth":3.5},
      "encoding": {
        "x": {"field":"date","type":"temporal","title":null},
        "y": {"field":"kijun","type":"quantitative","title":null}
      }
    },
    {
      "data": {"name":"prices"},
      "transform": [{"filter":"isValid(datum.chikou)"}],
      "mark": {"type":"line","color":"#000","strokeWidth":3.3},
      "encoding": {
        "x": {"field":"date","type":"temporal","title":null},
        "y": {"field":"chikou","type":"quantitative","title":null}
      }
    },
    {
      "data": {"name":"levels"},
      "mark": {"type":"rule"},
      "encoding": {
        "y": {"field":"level","type":"quantitative","title":null},
        "color": {"field":"line","type":"nominal","legend":null,"scale":{"domain":["SSB + Kijun Q 96,990","Kijun Monthly 94,223","Kijun Quaterly 92,174","SSB Monthly 90,676"],"range":["#FF0000","#55D14F","#37AE37","#FF0000"]}},
        "strokeWidth": {"field":"line","type":"nominal","legend":null,"scale":{"domain":["SSB + Kijun Q 96,990","Kijun Monthly 94,223","Kijun Quaterly 92,174","SSB Monthly 90,676"],"range":[3.5,2.2,3.8,2.2]}}
      }
    },
    {
      "data": {"name":"levels","format":{"parse":{"start":"date","end":"date"}}},
      "mark": {"type":"rect","fill":"#FFFFFF","strokeWidth":1.2},
      "encoding": {
        "x": {"field":"start","type":"temporal","title":null},
        "x2": {"field":"end"},
        "y": {"field":"level","type":"quantitative","title":null},
        "y2": {"field":"top"},
        "stroke": {"field":"line","type":"nominal","legend":null,"scale":{"domain":["SSB + Kijun Q 96,990","Kijun Monthly 94,223","Kijun Quaterly 92,174","SSB Monthly 90,676"],"range":["#FF0000","#55D14F","#37AE37","#FF0000"]}}
      }
    },
    {
      "data": {"name":"levels"},
      "mark": {"type":"text","align":"left","baseline":"middle","fontSize":11.5},
      "encoding": {
        "x": {"field":"textStart","type":"temporal","title":null},
        "y": {"field":"textAt","type":"quantitative","title":null},
        "text": {"field":"line"},
        "color": {"field":"line","type":"nominal","legend":null,"scale":{"domain":["SSB + Kijun Q 96,990","Kijun Monthly 94,223","Kijun Quaterly 92,174","SSB Monthly 90,676"],"range":["#FF0000","#55D14F","#37AE37","#FF0000"]}}
      }
    },
    {
      "data": {"name":"patterns"},
      "mark": {"type":"text","align":"center","baseline":"middle","fontSize":10.3,"color":"#8A8A8A"},
      "encoding": {
        "x": {"field":"date","type":"temporal","title":null},
        "y": {"field":"labelAt","type":"quantitative","title":null},
        "text": {"field":"label"}
      }
    },
    {
      "data": {"name":"patterns"},
      "mark": {"type":"point","filled":true,"size":196,"fill":"#6F6F6F","stroke":"#4A4A4A","strokeWidth":0.8,"opacity":1},
      "encoding": {
        "x": {"field":"date","type":"temporal","title":null},
        "y": {"field":"arrowAt","type":"quantitative","title":null},
        "shape": {"field":"dir","type":"nominal","legend":null,"scale":{"domain":["down","up"],"range":["M-0.42,-1 L0.42,-1 L0.42,0 L0.85,0 L0,1 L-0.85,0 L-0.42,0 Z","M-0.42,1 L0.42,1 L0.42,0 L0.85,0 L0,-1 L-0.85,0 L-0.42,0 Z"]}}
      }
    },
    {
      "data": {"values": [{"date":"2025-04-21","value":130.3,"label":"CAD/JPY Mini"}]},
      "mark": {"type":"text","align":"right","baseline":"middle","fontSize":21,"color":"#E9E9E9"},
      "encoding": {
        "x": {"field":"date","type":"temporal","title":null},
        "y": {"field":"value","type":"quantitative","title":null},
        "text": {"field":"label"}
      }
    },
    {
      "data": {"values": [{"date":"2011-07-20","value":65.94,"label":"IT-Finance.com"}]},
      "mark": {"type":"text","align":"left","baseline":"middle","fontSize":11.5,"color":"#111"},
      "encoding": {
        "x": {"field":"date","type":"temporal","title":null},
        "y": {"field":"value","type":"quantitative","title":null},
        "text": {"field":"label"}
      }
    },
    {
      "data": {"values": [{"start":"2011-07-12","end":"2025-10-17","low":64.42,"high":64.42}], "format": {"parse": {"start":"date","end":"date"}}},
      "mark": {"type":"rule","color":"#9AA8B4","strokeWidth":1.2},
      "encoding": {
        "x": {"field":"start","type":"temporal","title":null},
        "x2": {"field":"end"},
        "y": {"field":"low","type":"quantitative","title":null}
      }
    },
    {
      "data": {"values": [{"start":"2011-07-12","end":"2025-10-17","low":131.3,"high":132.63}], "format": {"parse": {"start":"date","end":"date"}}},
      "mark": {"type":"rect","stroke":"#9AA8B4","strokeWidth":1.2,"fill":{"gradient":"linear","x1":0,"x2":0,"y1":0,"y2":1,"stops":[{"offset":0,"color":"#E6F4FA"},{"offset":1,"color":"#C6DCE5"}]}},
      "encoding": {
        "x": {"field":"start","type":"temporal","title":null},
        "x2": {"field":"end"},
        "y": {"field":"low","type":"quantitative","title":null},
        "y2": {"field":"high"}
      }
    },
    {
      "data": {"name":"buttons","format":{"parse":{"start":"date","end":"date"}}},
      "mark": {"type":"rect","fill":"#FBFCFC","stroke":"#9AA8B4","strokeWidth":1.2},
      "encoding": {
        "x": {"field":"start","type":"temporal","title":null},
        "x2": {"field":"end"},
        "y": {"datum":130.23,"type":"quantitative","title":null},
        "y2": {"datum":131.24}
      }
    },
    {
      "data": {"name":"swatches","format":{"parse":{"start":"date","end":"date"}}},
      "mark": {"type":"rect"},
      "encoding": {
        "x": {"field":"start","type":"temporal","title":null},
        "x2": {"field":"end"},
        "y": {"field":"low","type":"quantitative","title":null},
        "y2": {"field":"high"},
        "fill": {"field":"tone","type":"nominal","legend":null,"scale":{"domain":["bleu","rouge","vert","orange","noir"],"range":["#1E90F0","#E86060","#33B83A","#F5A623","#000000"]}}
      }
    },
    {
      "data": {"values": [{"date":"2011-08-18","value":131.67,"label":"DEMO"}]},
      "mark": {"type":"text","align":"center","baseline":"middle","fontSize":7,"fontWeight":"bold","color":"#FFD800"},
      "encoding": {
        "x": {"field":"date","type":"temporal","title":null},
        "y": {"field":"value","type":"quantitative","title":null},
        "text": {"field":"label"}
      }
    },
    {
      "data": {"values": [{"date":"2011-09-29","value":131.87,"label":"CAD/JPY Mini Mensuel 97,539 (−0,04 %) 30 janv. 2023, 10:24:54"}]},
      "mark": {"type":"text","align":"left","baseline":"middle","fontSize":12,"fontWeight":"bold","color":"#111"},
      "encoding": {
        "x": {"field":"date","type":"temporal","title":null},
        "y": {"field":"value","type":"quantitative","title":null},
        "text": {"field":"label"}
      }
    },
    {
      "data": {"values": [{"date":"2025-10-06","value":131.87,"label":"IT-Finance.com"}]},
      "mark": {"type":"text","align":"right","baseline":"middle","fontSize":12,"fontWeight":"bold","color":"#111"},
      "encoding": {
        "x": {"field":"date","type":"temporal","title":null},
        "y": {"field":"value","type":"quantitative","title":null},
        "text": {"field":"label"}
      }
    },
    {
      "data": {"values": [
        {"date":"2011-08-30","value":130.73,"label":"Prix"},
        {"date":"2011-12-19","value":130.73,"label":"Ichimoku (9 26 52)"},
        {"date":"2012-11-12","value":130.73,"label":"Chandeliers & Stochastiques (14 5 80 20 128 128 128 t t t)"}
      ]},
      "mark": {"type":"text","align":"left","baseline":"middle","fontSize":11.6,"color":"#222"},
      "encoding": {
        "x": {"field":"date","type":"temporal","title":null},
        "y": {"field":"value","type":"quantitative","title":null},
        "text": {"field":"label"}
      }
    },
    {
      "data": {"name":"tags","format":{"parse":{"start":"date","end":"date","tickStart":"date"}}},
      "mark": {"type":"rule","strokeWidth":1.2},
      "encoding": {
        "x": {"field":"tickStart","type":"temporal","title":null},
        "x2": {"field":"start"},
        "y": {"field":"value","type":"quantitative","title":null},
        "color": {"field":"series","type":"nominal","legend":null,"scale":{"domain":["tenkan","ssa","price","last","kijun","ssb"],"range":["#FF9F1C","#1E9BFF","#000000","#000000","#33C900","#FF1744"]}}
      }
    },
    {
      "data": {"name":"tags","format":{"parse":{"start":"date","end":"date","tickStart":"date"}}},
      "mark": {"type":"rect","stroke":"#9AA8B4","strokeWidth":1},
      "encoding": {
        "x": {"field":"start","type":"temporal","title":null},
        "x2": {"field":"end"},
        "y": {"field":"low","type":"quantitative","title":null},
        "y2": {"field":"high"},
        "fill": {"field":"series","type":"nominal","legend":null,"scale":{"domain":["tenkan","ssa","price","last","kijun","ssb"],"range":["#F6F6F6","#F6F6F6","#F7C600","#F6F6F6","#F6F6F6","#F6F6F6"]}}
      }
    },
    {
      "data": {"name":"tags"},
      "mark": {"type":"text","align":"center","baseline":"middle","fontSize":11,"font":"DejaVu Sans"},
      "encoding": {
        "x": {"field":"mid","type":"temporal","title":null},
        "y": {"field":"center","type":"quantitative","title":null},
        "text": {"field":"label"},
        "color": {"field":"series","type":"nominal","legend":null,"scale":{"domain":["tenkan","ssa","price","last","kijun","ssb"],"range":["#FF9F1C","#1E9BFF","#000000","#000000","#33C900","#FF1744"]}}
      }
    }
  ]
}
